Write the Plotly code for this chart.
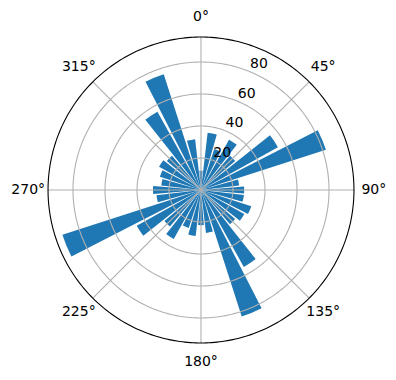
import numpy as np
import plotly.graph_objects as go

# Direction bins (degrees, clockwise from north) and bar heights
directions = [i * 11.25 for i in range(32)]
counts = [12, 36, 27, 36, 28, 55, 82, 24,
          27, 27, 33, 31, 28, 55, 83, 27,
          22, 29, 25, 35, 30, 46, 91, 28,
          30, 25, 27, 30, 28, 56, 76, 32]
r_ticks = [20, 40, 60, 80]
r_label_angle = 22.5
theta_ticks = [0, 45, 90, 135, 180, 225, 270, 315]
theta_labels = [f"{t}°" for t in theta_ticks]
r_max = 95.6          # edge of the plotted disc
theta_label_r = 108.0  # where the angle labels sit
r_view = 110.0        # visible radial extent (room for labels)

GRID = "#b0b0b0"
fig = go.Figure()
fig.add_trace(go.Barpolar(
    r=counts, theta=directions, width=9.3,
    marker=dict(color="#1f77b4", line=dict(width=0)),
    showlegend=False, hoverinfo="skip"))

# grid drawn above the bars (as matplotlib does)
circ = np.linspace(0, 360, 361)
for rv in r_ticks:
    fig.add_trace(go.Scatterpolar(r=[rv] * len(circ), theta=circ, mode="lines",
                                  line=dict(color=GRID, width=1.1),
                                  showlegend=False, hoverinfo="skip"))
for t in theta_ticks:
    fig.add_trace(go.Scatterpolar(r=[0, r_max], theta=[t, t], mode="lines",
                                  line=dict(color=GRID, width=1.1),
                                  showlegend=False, hoverinfo="skip"))
# outer frame circle
fig.add_trace(go.Scatterpolar(r=[r_max] * len(circ), theta=circ, mode="lines",
                              line=dict(color="black", width=1.1),
                              showlegend=False, hoverinfo="skip"))

# radial tick labels, horizontal, along the 22.5° direction
fig.add_trace(go.Scatterpolar(
    r=r_ticks, theta=[r_label_angle] * len(r_ticks), mode="text",
    text=[str(v) for v in r_ticks], textposition="top right",
    textfont=dict(family="DejaVu Sans", size=14, color="black"),
    showlegend=False, hoverinfo="skip", cliponaxis=False))

# angular tick labels, centred just outside the outer circle
fig.add_trace(go.Scatterpolar(
    r=[theta_label_r] * len(theta_ticks), theta=theta_ticks, mode="text",
    text=theta_labels, textposition="middle center",
    textfont=dict(family="DejaVu Sans", size=14, color="black"),
    showlegend=False, hoverinfo="skip", cliponaxis=False))

fig.update_layout(
    width=396, height=380,
    margin=dict(l=25, r=19, t=14, b=14),
    paper_bgcolor="white",
    font=dict(family="DejaVu Sans", size=14, color="black"),
    polar=dict(
        bgcolor="white",
        radialaxis=dict(range=[0, r_view], showticklabels=False,
                        showgrid=False, showline=False, ticks=""),
        angularaxis=dict(rotation=90, direction="clockwise", tickvals=theta_ticks,
                         showticklabels=False, showgrid=False, ticks="",
                         showline=False),
    ),
)
fig.write_html("out.html")
